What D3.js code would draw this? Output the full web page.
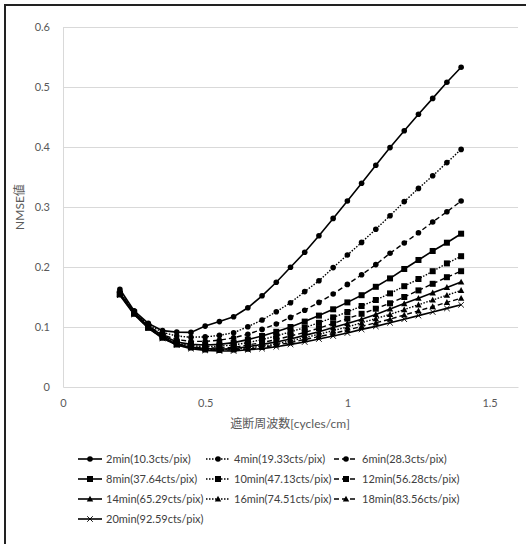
<!DOCTYPE html>
<html><head><meta charset="utf-8">
<script src="https://cdn.jsdelivr.net/npm/d3@7"></script>
<style>
html,body{margin:0;padding:0;background:#fff;}
svg{display:block;}
text{font-family:Lato,"Noto Sans CJK JP",sans-serif;}
</style></head>
<body>
<svg id="chart" width="526" height="544"></svg>
<script>
const xValues = [0.2,0.25,0.3,0.35,0.4,0.45,0.5,0.55,0.6,0.65,0.7,0.75,0.8,0.85,0.9,0.95,1.0,1.05,1.1,1.15,1.2,1.25,1.3,1.35,1.4];
const seriesNames = ["2min(10.3cts/pix)","4min(19.33cts/pix)","6min(28.3cts/pix)","8min(37.64cts/pix)","10min(47.13cts/pix)","12min(56.28cts/pix)","14min(65.29cts/pix)","16min(74.51cts/pix)","18min(83.56cts/pix)","20min(92.59cts/pix)"];
const s2  = [0.163,0.127,0.106,0.094,0.0915,0.091,0.1015,0.109,0.117,0.132,0.152,0.1745,0.1995,0.2245,0.252,0.281,0.31,0.3395,0.3695,0.399,0.427,0.4545,0.481,0.508,0.533];
const s4  = [0.158,0.126,0.104,0.091,0.085,0.083,0.0835,0.086,0.0905,0.1005,0.1117,0.1255,0.1405,0.159,0.177,0.199,0.22,0.241,0.263,0.2855,0.309,0.331,0.352,0.374,0.396];
const s6  = [0.157,0.125,0.102,0.087,0.079,0.076,0.076,0.078,0.082,0.088,0.096,0.105,0.116,0.128,0.141,0.155,0.171,0.187,0.204,0.223,0.24,0.257,0.275,0.292,0.31];
const s8  = [0.156,0.124,0.101,0.086,0.075,0.071,0.07,0.071,0.074,0.079,0.085,0.092,0.1,0.109,0.119,0.1295,0.141,0.153,0.167,0.181,0.1967,0.2117,0.2267,0.2405,0.2555];
const s10 = [0.155,0.124,0.1,0.085,0.073,0.069,0.067,0.068,0.07,0.074,0.079,0.085,0.092,0.099,0.107,0.116,0.125,0.135,0.145,0.156,0.168,0.18,0.193,0.206,0.218];
const s12 = [0.155,0.123,0.1,0.084,0.072,0.067,0.065,0.065,0.066,0.07,0.074,0.079,0.085,0.091,0.098,0.106,0.114,0.122,0.1305,0.1395,0.15,0.161,0.172,0.183,0.193];
const s14 = [0.155,0.123,0.099,0.083,0.071,0.066,0.064,0.063,0.064,0.067,0.071,0.075,0.08,0.086,0.092,0.099,0.106,0.113,0.121,0.13,0.139,0.148,0.157,0.166,0.175];
const s16 = [0.154,0.122,0.099,0.082,0.071,0.066,0.063,0.062,0.063,0.065,0.068,0.072,0.077,0.082,0.088,0.094,0.1,0.107,0.114,0.121,0.129,0.137,0.145,0.153,0.161];
const s18 = [0.154,0.122,0.098,0.082,0.07,0.065,0.062,0.061,0.062,0.063,0.066,0.07,0.074,0.079,0.084,0.089,0.095,0.101,0.107,0.113,0.12,0.127,0.134,0.141,0.148];
const s20 = [0.153,0.121,0.098,0.081,0.07,0.064,0.061,0.06,0.06,0.062,0.064,0.067,0.071,0.075,0.08,0.085,0.09,0.096,0.101,0.107,0.113,0.119,0.125,0.131,0.137];
const seriesValues = [s2,s4,s6,s8,s10,s12,s14,s16,s18,s20];
const lineStyles = ["solid","dot","dash","solid","dot","dash","solid","dot","dash","solid"];
const markerTypes = ["circle","circle","circle","square","square","square","triangle","triangle","triangle","cross"];
const xTicks = [0,0.5,1,1.5];
const yTicks = [0,0.1,0.2,0.3,0.4,0.5,0.6];
const xTitle = "遮断周波数[cycles/cm]";
const yTitle = "NMSE値";

const svg = d3.select("#chart");
const W = 526, H = 544;
const plot = {left:63, right:518, top:27, bottom:387};
const x = d3.scaleLinear().domain([0,1.6]).range([plot.left, plot.right]);
const y = d3.scaleLinear().domain([0,0.6]).range([plot.bottom, plot.top]);

// frame (top and left border)
svg.append("line").attr("x1",5).attr("x2",W).attr("y1",5).attr("y2",5).attr("stroke","#222").attr("stroke-width",2);
svg.append("line").attr("x1",5).attr("x2",5).attr("y1",4).attr("y2",H).attr("stroke","#222").attr("stroke-width",2);

// gridlines
svg.append("g").selectAll("line").data(yTicks.filter(d=>d>0)).join("line")
  .attr("x1",plot.left).attr("x2",plot.right)
  .attr("y1",d=>Math.round(y(d))+0.5).attr("y2",d=>Math.round(y(d))+0.5)
  .attr("stroke","#d9d9d9").attr("stroke-width",1);

// axes
const yAxis = d3.axisLeft(y).tickValues(yTicks).tickSize(0).tickPadding(13).tickFormat(d3.format("~g"));
const gy = svg.append("g").attr("transform",`translate(${plot.left},0)`).call(yAxis);
gy.select(".domain").attr("stroke","#d9d9d9");
gy.selectAll("text").attr("fill","#595959").style("font-size","11px");

const xAxis = d3.axisBottom(x).tickValues(xTicks).tickSize(0).tickPadding(12).tickFormat(d3.format("~g"));
const gx = svg.append("g").attr("transform",`translate(0,${plot.bottom})`).call(xAxis);
gx.select(".domain").attr("stroke","#d9d9d9");
gx.selectAll("text").attr("fill","#595959").style("font-size","11px");

// titles
svg.append("text").attr("x",290).attr("y",428).attr("text-anchor","middle")
  .attr("fill","#595959").style("font-size","12px").text(xTitle);
svg.append("text").attr("transform","translate(24,207) rotate(-90)").attr("text-anchor","middle")
  .attr("fill","#595959").style("font-size","12px").text(yTitle);

const dashFor = s => s==="dot" ? "1.5 1.5" : (s==="dash" ? "5 3" : null);
const line = d3.line().x((d,i)=>x(xValues[i])).y(d=>y(d));

function drawMarker(g, type, cx, cy){
  if(type==="circle"){
    g.append("circle").attr("cx",cx).attr("cy",cy).attr("r",2.8).attr("fill","#000");
  } else if(type==="square"){
    g.append("rect").attr("x",cx-3).attr("y",cy-3).attr("width",6).attr("height",6).attr("fill","#000");
  } else if(type==="triangle"){
    g.append("path").attr("d",`M${cx},${cy-3.3}L${cx+3.2},${cy+2.6}L${cx-3.2},${cy+2.6}Z`).attr("fill","#000");
  } else {
    g.append("path").attr("d",`M${cx-2.8},${cy-2.8}L${cx+2.8},${cy+2.8}M${cx-2.8},${cy+2.8}L${cx+2.8},${cy-2.8}`)
      .attr("stroke","#000").attr("stroke-width",0.9).attr("fill","none");
  }
}

const gSeries = svg.append("g");
seriesValues.forEach((vals,k)=>{
  const g = gSeries.append("g");
  g.append("path").attr("d",line(vals)).attr("fill","none").attr("stroke","#000")
    .attr("stroke-width", lineStyles[k]==="solid" ? 1.6 : 1.4)
    .attr("stroke-dasharray", dashFor(lineStyles[k]));
  vals.forEach((v,i)=>drawMarker(g, markerTypes[k], x(xValues[i]), y(v)));
});

// legend
const colX = [78,206,334];
const rowY = [459,479,499,519];
seriesNames.forEach((name,k)=>{
  const cx = colX[k%3], cy = rowY[Math.floor(k/3)];
  const g = svg.append("g");
  g.append("line").attr("x1",cx).attr("x2",cx+24).attr("y1",cy).attr("y2",cy)
    .attr("stroke","#000").attr("stroke-width", lineStyles[k]==="solid" ? 1.6 : 1.4)
    .attr("stroke-dasharray", dashFor(lineStyles[k]));
  drawMarker(g, markerTypes[k], cx+12, cy);
  g.append("text").attr("x",cx+28).attr("y",cy+4).attr("fill","#404040")
    .style("font-size","11px").text(name);
});
</script>
</body></html>
